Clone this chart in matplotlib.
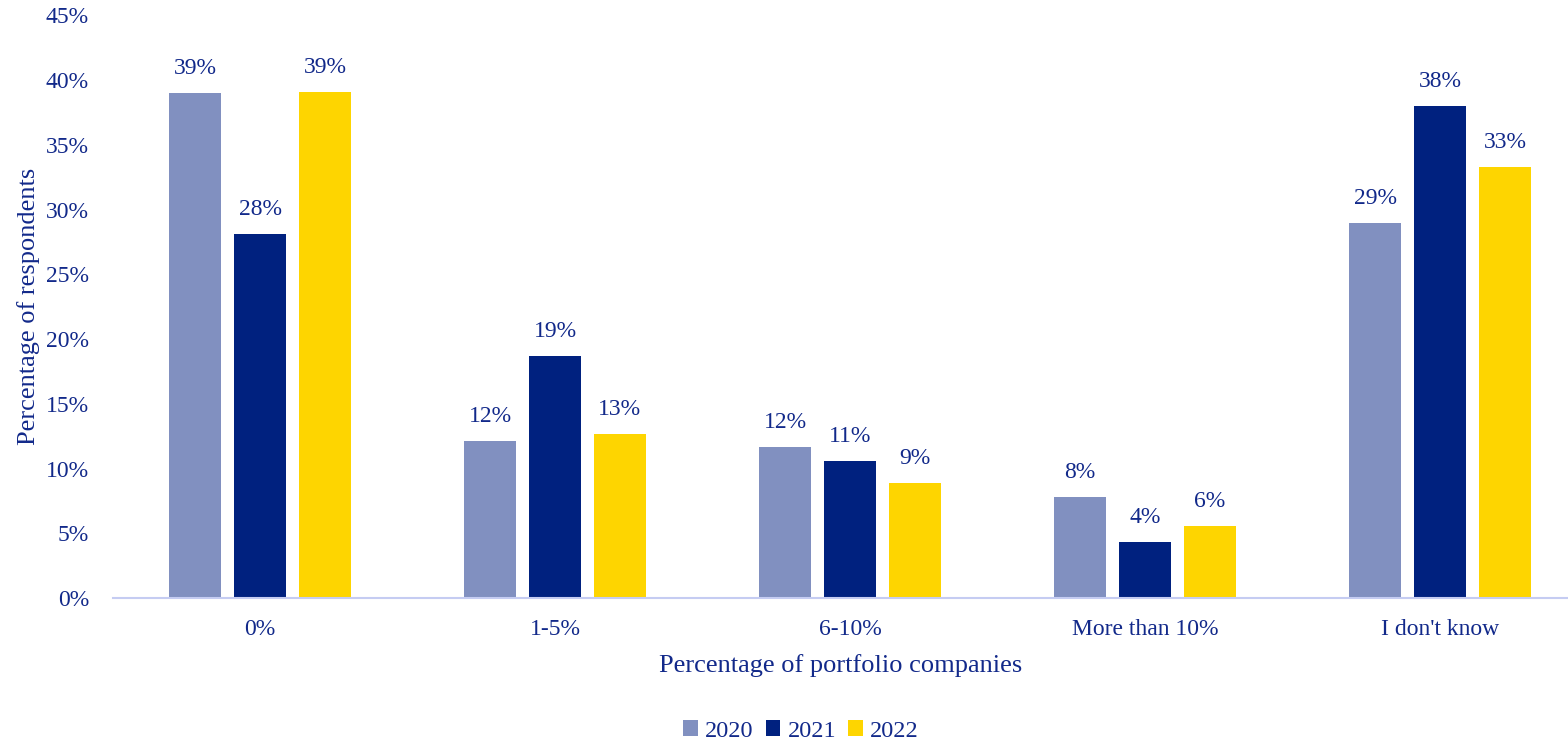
import matplotlib.pyplot as plt
import numpy as np

# survey results, share of respondents per bucket
categories = ['0%', '1-5%', '6-10%', 'More than 10%', "I don't know"]
years = ['2020', '2021', '2022']
share_2020 = [0.390, 0.121, 0.117, 0.078, 0.290]
share_2021 = [0.281, 0.187, 0.106, 0.043, 0.380]
share_2022 = [0.391, 0.127, 0.089, 0.056, 0.333]
yticks = [0, 0.05, 0.10, 0.15, 0.20, 0.25, 0.30, 0.35, 0.40, 0.45]

colors = ['#8190C0', '#00217F', '#FED500']
text_col = '#12298A'

plt.rcParams['font.family'] = ['Liberation Serif', 'DejaVu Serif']

fig = plt.figure(figsize=(15.68, 7.43), dpi=100)
ax = fig.add_axes([112.5 / 1568, 145 / 743, (1568 - 112.5) / 1568, 582.5 / 743])

x = np.arange(len(categories))
offset = 0.22
width = 0.176
for i, (vals, yr) in enumerate(zip([share_2020, share_2021, share_2022], years)):
    pos = x + (i - 1) * offset
    ax.bar(pos, vals, width, color=colors[i], label=yr, zorder=2)
    for px, v in zip(pos, vals):
        ax.annotate(f'{round(v * 100):.0f}%', (px, v), xytext=(0, 10),
                    textcoords='offset points', ha='center', va='bottom',
                    fontsize=17, color=text_col)

ax.set_xlim(-0.5, 4 + 128 / 295)
ax.set_ylim(0, 0.45)
ax.set_xticks(x)
ax.set_xticklabels(categories)
ax.set_yticks(yticks)
ax.set_yticklabels([f'{round(t * 100)}%' for t in yticks])
ax.tick_params(length=0, labelsize=17, labelcolor=text_col)
ax.tick_params(axis='x', pad=15)
ax.tick_params(axis='y', pad=17)

for s in ['top', 'right', 'left']:
    ax.spines[s].set_visible(False)
ax.spines['bottom'].set_color('#C5CCF2')
ax.spines['bottom'].set_linewidth(1.5)

ax.set_xlabel('Percentage of portfolio companies', fontsize=19, color=text_col, labelpad=10)
ax.set_ylabel('Percentage of respondents', fontsize=19, color=text_col)
ax.yaxis.set_label_coords(-0.050, 0.5)

leg = fig.legend(loc='center', bbox_to_anchor=(801 / 1568, 1 - 731 / 743), ncol=3,
                 frameon=False, fontsize=17.5, handlelength=0.6, handleheight=0.6,
                 handletextpad=0.3, columnspacing=0.5, labelcolor=text_col)

fig.savefig('out.png', dpi=100)
